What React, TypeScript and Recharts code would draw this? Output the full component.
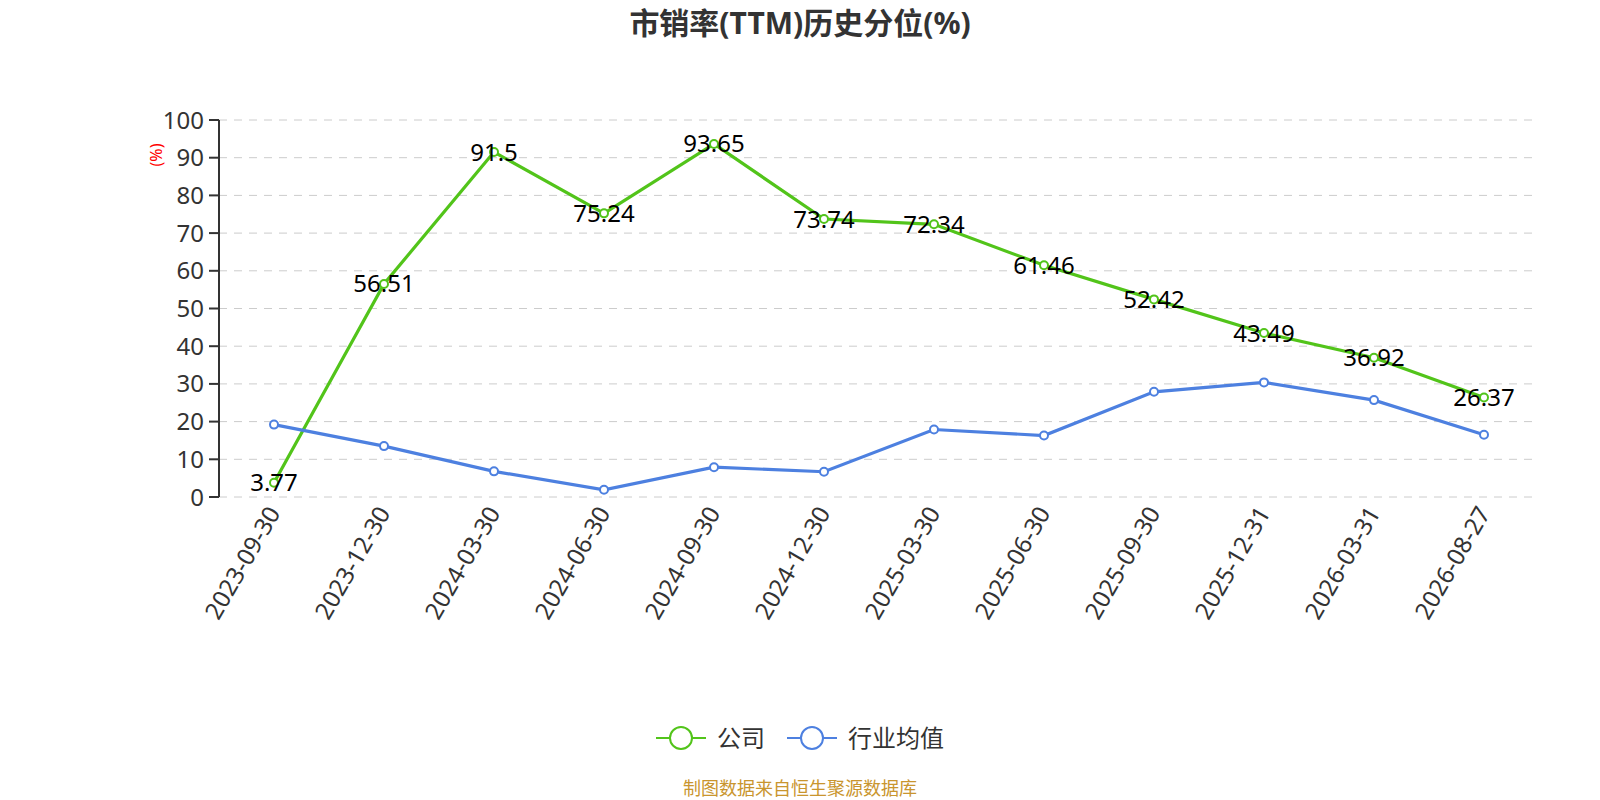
import React from 'react';
import {
  LineChart,
  Line,
  XAxis,
  YAxis,
  CartesianGrid,
  LabelList,
} from 'recharts';

// 报告期
const dates = [
  '2023-09-30', '2023-12-30', '2024-03-30', '2024-06-30', '2024-09-30', '2024-12-30',
  '2025-03-30', '2025-06-30', '2025-09-30', '2025-12-31', '2026-03-31', '2026-08-27',
];
// 公司 PS(TTM) 历史分位
const companyValues = [3.77, 56.51, 91.5, 75.24, 93.65, 73.74, 72.34, 61.46, 52.42, 43.49, 36.92, 26.37];
// 行业均值
const industryValues = [19.2, 13.5, 6.8, 1.9, 7.9, 6.7, 17.9, 16.3, 27.9, 30.4, 25.7, 16.5];
const yTicks = [0, 10, 20, 30, 40, 50, 60, 70, 80, 90, 100];
const edgeTicks = [0, 1, 2, 3, 4, 5, 6, 7, 8, 9, 10, 11, 12];

const GREEN = '#52c41a';
const BLUE = '#4d80e0';
const FONT = '"Noto Sans", "Noto Sans CJK SC", sans-serif';

const data = dates.map((d, i) => ({
  date: d,
  idx: i + 0.5,
  company: companyValues[i],
  industry: industryValues[i],
}));

const legendItems = [
  { name: '公司', color: GREEN },
  { name: '行业均值', color: BLUE },
];

const DateTick = (props: any) => {
  const { x, y, payload } = props;
  const ax = x - 1;
  const ay = y + 3;
  return (
    <text
      x={ax}
      y={ay}
      transform={`rotate(-60, ${ax}, ${ay})`}
      textAnchor="end"
      dominantBaseline="central"
      fontSize={24}
      fill="#333"
      fontFamily={FONT}
    >
      {payload.value}
    </text>
  );
};

export default function App() {
  return (
    <div
      style={{
        position: 'absolute',
        left: 0,
        top: 0,
        width: 1600,
        height: 800,
        overflow: 'hidden',
        background: '#fff',
        fontFamily: FONT,
      }}
    >
      <div
        style={{
          position: 'absolute',
          top: 6,
          left: 0,
          width: 1600,
          lineHeight: '34px',
          textAlign: 'center',
          fontSize: 30,
          fontWeight: 'bold',
          color: '#333',
        }}
      >
        市销率(TTM)历史分位(%)
      </div>
      <LineChart
        width={1600}
        height={800}
        data={data}
        margin={{ top: 120, right: 61, left: 159, bottom: 163 }}
      >
        <CartesianGrid vertical={false} stroke="#ccc" strokeDasharray="8 7" />
        <XAxis
          xAxisId="edge"
          type="number"
          dataKey="idx"
          domain={[0, 12]}
          ticks={edgeTicks}
          allowDataOverflow
          height={0}
          tick={false}
          axisLine={{ stroke: '#333', strokeWidth: 2 }}
          tickLine={{ stroke: '#333', strokeWidth: 2 }}
          tickSize={9}
        />
        <XAxis
          dataKey="date"
          scale="band"
          interval={0}
          height={140}
          axisLine={false}
          tickLine={false}
          tick={<DateTick />}
        />
        <YAxis
          width={60}
          domain={[0, 100]}
          ticks={yTicks}
          interval={0}
          axisLine={{ stroke: '#333', strokeWidth: 2 }}
          tickLine={{ stroke: '#333', strokeWidth: 2 }}
          tickSize={10}
          tickMargin={5}
          tick={{ fontSize: 24, fill: '#333', fontFamily: FONT }}
          label={{
            content: (p: any) => {
              const vb = p.viewBox;
              const cx = vb.x - 3;
              const cy = vb.y + 35;
              return (
                <text
                  x={cx}
                  y={cy}
                  transform={`rotate(-90, ${cx}, ${cy})`}
                  textAnchor="middle"
                  dominantBaseline="central"
                  fontSize={16}
                  fill="red"
                  fontFamily={FONT}
                >
                  (%)
                </text>
              );
            },
          }}
        />
        <Line
          name="公司"
          dataKey="company"
          stroke={GREEN}
          strokeWidth={3.2}
          dot={{ r: 4, fill: '#fff', stroke: GREEN, strokeWidth: 2 }}
          isAnimationActive={false}
        >
          <LabelList dataKey="company" position="center" fontSize={24} fill="#000" fontFamily={FONT} />
        </Line>
        <Line
          name="行业均值"
          dataKey="industry"
          stroke={BLUE}
          strokeWidth={3.2}
          dot={{ r: 4, fill: '#fff', stroke: BLUE, strokeWidth: 2 }}
          isAnimationActive={false}
        />
      </LineChart>
      {/* 图例 */}
      <div
        style={{
          position: 'absolute',
          top: 723,
          left: 0,
          width: 1600,
          display: 'flex',
          justifyContent: 'center',
          gap: 22,
        }}
      >
        {legendItems.map((it) => (
          <div key={it.name} style={{ display: 'flex', alignItems: 'center', gap: 11 }}>
            <svg width={50} height={30}>
              <line x1={0} y1={15} x2={50} y2={15} stroke={it.color} strokeWidth={2} />
              <circle cx={25} cy={15} r={11} fill="#fff" stroke={it.color} strokeWidth={2} />
            </svg>
            <span style={{ fontSize: 24, lineHeight: '30px', color: '#333' }}>{it.name}</span>
          </div>
        ))}
      </div>
      <div
        style={{
          position: 'absolute',
          top: 777,
          left: 0,
          width: 1600,
          lineHeight: '22px',
          textAlign: 'center',
          fontSize: 18,
          color: '#c9952e',
        }}
      >
        制图数据来自恒生聚源数据库
      </div>
    </div>
  );
}
